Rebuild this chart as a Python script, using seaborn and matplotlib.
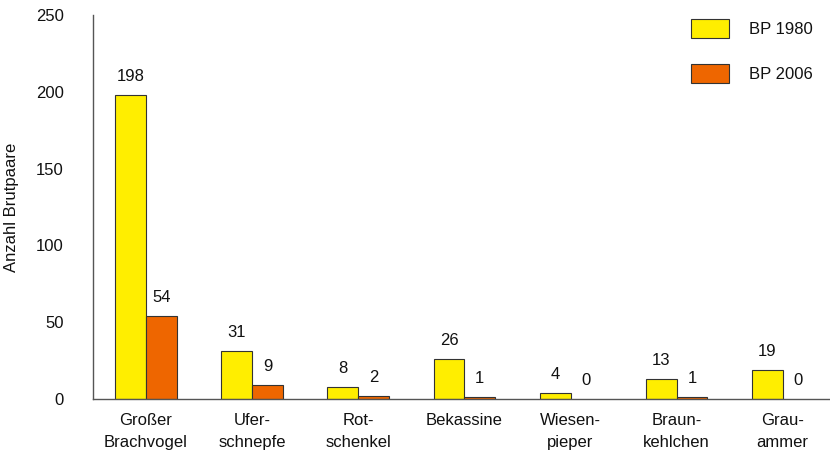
import numpy as np
import pandas as pd
import matplotlib
matplotlib.use("Agg")
import matplotlib.pyplot as plt
import seaborn as sns
from matplotlib.patches import Patch

arten = ["Großer\nBrachvogel", "Ufer-\nschnepfe", "Rot-\nschenkel", "Bekassine",
         "Wiesen-\npieper", "Braun-\nkehlchen", "Grau-\nammer"]
bp_1980 = [198, 31, 8, 26, 4, 13, 19]
bp_2006 = [54, 9, 2, 1, 0, 1, 0]
jahre = ["BP 1980", "BP 2006"]
farben = ["#FFEE00", "#EE6600"]

df = pd.DataFrame({
    "Art": arten * 2,
    "Anzahl": bp_1980 + bp_2006,
    "Jahr": [jahre[0]] * len(arten) + [jahre[1]] * len(arten),
})

sns.set_style("white")
plt.rcParams["font.family"] = ["Liberation Sans", "DejaVu Sans"]
plt.rcParams["font.size"] = 12
plt.rcParams["text.color"] = "#111111"

fig = plt.figure(figsize=(8.3, 4.58), dpi=100)
ax = fig.add_axes([0.112, 0.129, 0.895, 0.838])

sns.barplot(data=df, x="Art", y="Anzahl", hue="Jahr", palette=farben, saturation=1,
            width=0.58, edgecolor="#333333", linewidth=0.8, ax=ax, legend=False)

for cont in ax.containers:
    for p in cont.patches:
        if p.get_height() == 0:
            p.set_linewidth(0)
    ax.bar_label(cont, padding=8, fontsize=12, color="#111111")

ax.set_ylim(0, 250)
ax.set_xlim(-0.5, 6.5)
ax.set_yticks([0, 50, 100, 150, 200, 250])
ax.set_xticks(np.arange(len(arten)))
ax.set_xticklabels(arten, va="top", linespacing=1.6)
ax.set_xticks(np.arange(-0.5, len(arten), 1.0), minor=True)
ax.tick_params(axis="x", which="major", length=0, pad=10, labelsize=12, labelcolor="#111111")
ax.tick_params(axis="x", which="minor", length=6, color="#555555", direction="out")
ax.tick_params(axis="y", length=5, color="#555555", direction="out", labelsize=12,
               pad=16, labelcolor="#111111")
ax.set_xlabel("")
ax.set_ylabel("Anzahl Brutpaare", fontsize=12, labelpad=12, color="#111111")

for s in ["top", "right"]:
    ax.spines[s].set_visible(False)
ax.spines["left"].set_color("#555555")
ax.spines["bottom"].set_color("#555555")
ax.spines["left"].set_linewidth(1.0)
ax.spines["bottom"].set_linewidth(1.0)

handles = [Patch(facecolor=f, edgecolor="#333333", linewidth=0.8) for f in farben]
ax.legend(handles, jahre, loc="upper right", bbox_to_anchor=(0.985, 1.02), frameon=False,
          handlelength=2.3, handleheight=1.4, labelspacing=1.55, handletextpad=1.2,
          fontsize=12, borderaxespad=0.3)

fig.savefig("out.png", dpi=100)
